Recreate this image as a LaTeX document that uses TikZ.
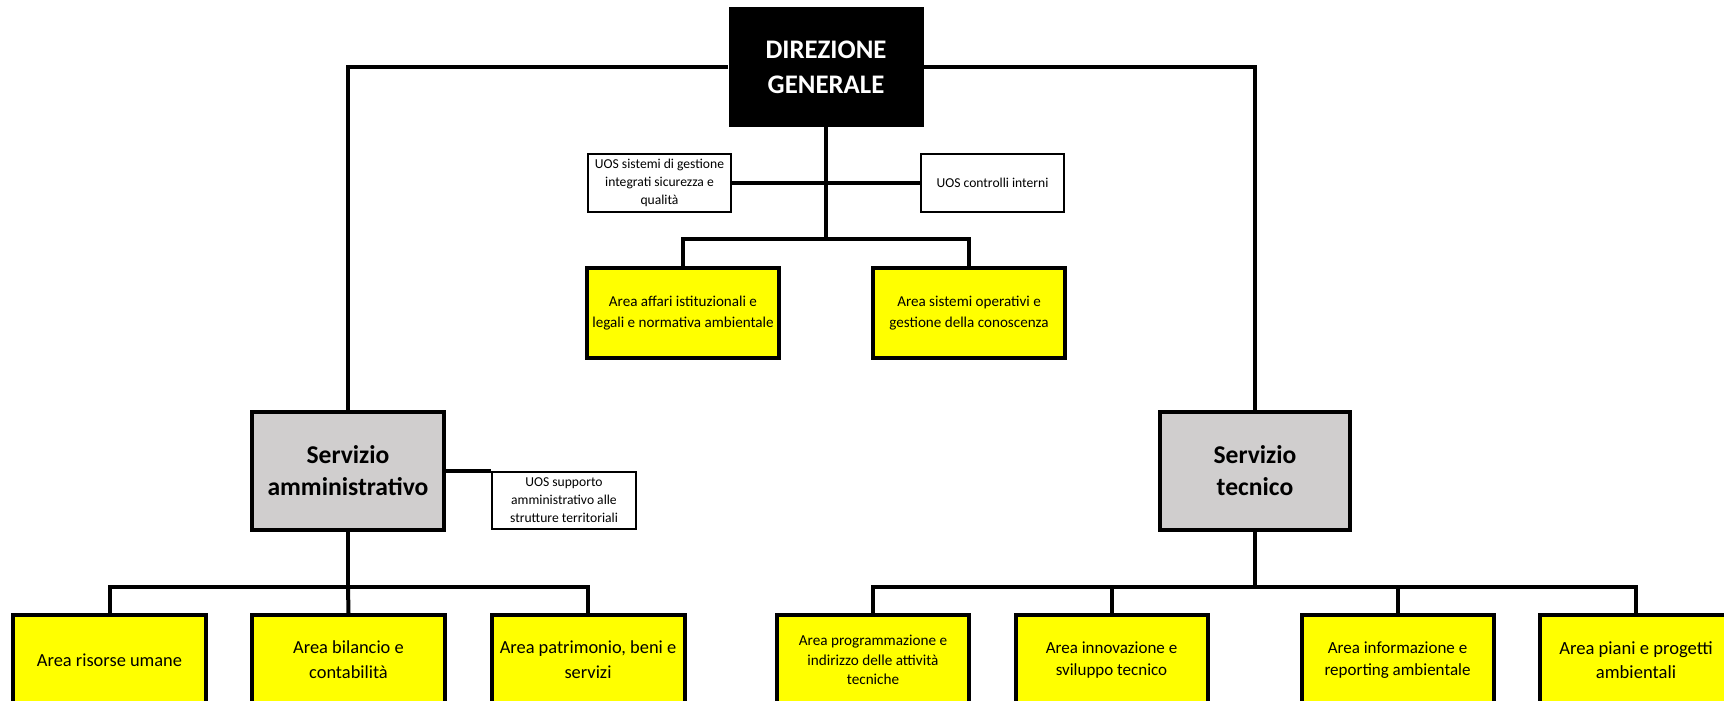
\documentclass[tikz,border=0pt]{standalone}
\usepackage{fontspec}
\setmainfont{Carlito}
\definecolor{grayfill}{HTML}{D0CECE}
\definecolor{yel}{HTML}{FFFF00}
\begin{document}
\begin{tikzpicture}[x=0.5pt,y=-0.5pt,
  conn/.style={line width=2pt, line join=miter},
  dgbox/.style={fill=black, text=white, minimum width=97.5pt, minimum height=60pt, inner sep=0pt, align=center,
    font=\bfseries\fontsize{13.4pt}{17.5pt}\selectfont},
  uosbox/.style={draw, line width=0.6pt, fill=white, minimum height=29pt, inner sep=0pt, align=center,
    font=\fontsize{6.8pt}{9pt}\selectfont},
  servbox/.style={draw, line width=2.2pt, fill=grayfill, minimum height=59pt, inner sep=0pt, align=center,
    font=\bfseries\fontsize{12.8pt}{16pt}\selectfont},
  areabox/.style={draw, line width=2pt, fill=yel, minimum width=96pt, minimum height=45pt, inner sep=0pt, align=center}
]
\useasboundingbox (0,0) rectangle (1724,701);
\clip (0,0) rectangle (1724,701);

% nodes
\node[dgbox] (dg) at (826,67) {DIREZIONE\\GENERALE};
\node[uosbox, minimum width=71.5pt] (uosL) at (659.5,183) {UOS sistemi di gestione\\integrati sicurezza e\\qualità};
\node[uosbox, minimum width=71.5pt] (uosR) at (992.5,183) {UOS controlli interni};
\node[areabox, font=\fontsize{7.55pt}{10.5pt}\selectfont] (aL) at (683,313) {Area affari istituzionali e\\legali e normativa ambientale};
\node[areabox, font=\fontsize{7.55pt}{10.5pt}\selectfont] (aR) at (969,313) {Area sistemi operativi e\\gestione della conoscenza};

\node[servbox, minimum width=96pt] (samm) at (348,471) {Servizio\\amministrativo};
\node[servbox, minimum width=95pt] (stec) at (1255,471) {Servizio\\tecnico};
\node[uosbox, minimum width=72pt, minimum height=28.5pt] (uossup) at (564,500.5) {UOS supporto\\amministrativo alle\\strutture territoriali};

\node[areabox, minimum width=96.5pt, font=\fontsize{9.2pt}{12.5pt}\selectfont] (b1) at (109.5,660) {Area risorse umane};
\node[areabox, minimum width=96.5pt, font=\fontsize{9.2pt}{12.5pt}\selectfont] (b2) at (348.5,660) {Area bilancio e\\contabilità};
\node[areabox, minimum width=96.5pt, font=\fontsize{9.2pt}{12.5pt}\selectfont] (b3) at (588,660) {Area patrimonio, beni e\\servizi};

\node[areabox, font=\fontsize{7.6pt}{9.8pt}\selectfont] (t1) at (873,660) {Area programmazione e\\indirizzo delle attività\\tecniche};
\node[areabox, font=\fontsize{8.5pt}{11pt}\selectfont] (t2) at (1111.5,660) {Area innovazione e\\sviluppo tecnico};
\node[areabox, font=\fontsize{8.5pt}{11pt}\selectfont] (t3) at (1397.5,660) {Area informazione e\\reporting ambientale};
\node[areabox, font=\fontsize{9.3pt}{12pt}\selectfont] (t4) at (1636,660) {Area piani e progetti\\ambientali};

% junctions
\coordinate (j1) at (826,239);
\coordinate (j2) at (348,587);
\coordinate (j3) at (1255,587);

% connectors
\draw[conn] (dg.west) -| (samm.north);
\draw[conn] (dg.east) -| (stec.north);
\draw[conn] (dg.south) -- (j1);
\draw[conn] (uosL.east) -- (uosR.west);
\draw[conn] (aL.north) |- (j1) -| (aR.north);

\draw[conn] (samm.east) -- (samm.east -| uossup.west);
\draw[conn] (samm.south) -- (j2);
\draw[conn] (b1.north) |- (j2) -| (b3.north);
\draw[conn] (j2) -- (b2.north);

\draw[conn] (stec.south) -- (j3);
\draw[conn] (t1.north) |- (j3) -| (t4.north);
\draw[conn] (t2.north) -- (t2.north |- j3);
\draw[conn] (t3.north) -- (t3.north |- j3);
\end{tikzpicture}
\end{document}
